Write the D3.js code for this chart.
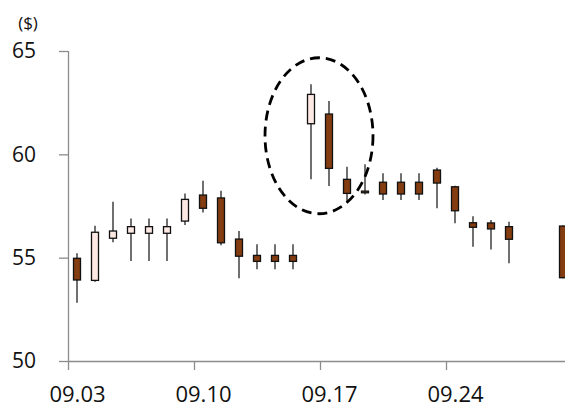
<!DOCTYPE html>
<html>
<head>
<meta charset="utf-8">
<script src="https://cdn.jsdelivr.net/npm/d3@7"></script>
<style>
  html, body { margin: 0; padding: 0; background: #fff; }
  svg { display: block; font-family: "Open Sans", "Noto Sans", sans-serif; }
</style>
</head>
<body>
<svg id="chart" width="565" height="408"></svg>
<script>
// Daily prices, September
const dates  = ["09.03","09.04","09.05","09.06","09.07","09.08","09.09","09.10","09.11","09.12",
                "09.13","09.14","09.15","09.16","09.17","09.18","09.19","09.20","09.21","09.22",
                "09.23","09.24","09.25","09.26","09.27","09.30"];
const open   = [54.97,53.90,55.94,56.18,56.18,56.18,56.77,58.03,57.89,55.90,
                55.11,55.11,55.11,61.48,61.95,58.79,58.22,58.65,58.65,58.65,
                59.24,58.43,56.69,56.68,56.50,56.53];
const high   = [55.21,56.55,57.71,56.90,56.90,56.90,58.11,58.72,58.24,56.29,
                55.65,55.65,55.65,63.39,62.58,59.40,59.52,59.08,59.08,59.08,
                59.35,58.48,57.01,56.82,56.74,56.56];
const low    = [52.82,53.84,55.74,54.84,54.84,54.84,56.58,57.19,55.60,54.00,
                54.44,54.44,54.44,58.79,58.47,57.68,58.06,57.79,57.79,57.79,
                57.39,56.66,55.53,55.40,54.73,54.00];
const close  = [53.92,56.23,56.29,56.50,56.50,56.50,57.82,57.39,55.72,55.07,
                54.82,54.82,54.82,62.90,59.32,58.11,58.14,58.08,58.08,58.08,
                58.61,57.27,56.47,56.39,55.89,54.03];

const yTicks = [50, 55, 60, 65];
const xTicks = ["09.03","09.10","09.17","09.24"];
const yUnit = "($)";

// highlighted region: centred on the 09.17 boundary, around $60.9
const highlight = { date: "09.17", value: 60.9, rx: 54, ry: 78 };

const parse = d => new Date(Date.UTC(2012, +d.slice(0, 2) - 1, +d.slice(3)));
const DAY = 864e5;

const candles = dates.map((d, i) => ({
  t: parse(d), open: open[i], high: high[i], low: low[i], close: close[i]
}));

const svg = d3.select("#chart");
const plotLeft = 68, plotTop = 51, plotBottom = 361, plotRight = 565;

const x = d3.scaleUtc()
  .domain([parse("09.03"), parse("10.01")])
  .range([plotLeft, plotLeft + 18 * 28]);
const halfDay = (x(new Date(+parse("09.03") + DAY)) - x(parse("09.03"))) / 2;
const y = d3.scaleLinear().domain([50, 65]).range([plotBottom, plotTop]);

const axisColor = "#8c8c8c";

// y axis
const yAxis = svg.append("g")
  .attr("transform", `translate(${plotLeft},0)`)
  .call(d3.axisLeft(y).tickValues(yTicks).tickSize(9).tickPadding(23).tickFormat(d3.format("d")));
yAxis.select(".domain").attr("stroke", axisColor).attr("stroke-width", 1.3)
  .attr("d", `M0.5,${plotTop}V${plotBottom}`);
yAxis.selectAll(".tick line").attr("stroke", axisColor).attr("stroke-width", 1.3);
yAxis.selectAll(".tick text").attr("font-size", 21).attr("fill", "#111")
  .attr("font-family", "'Open Sans', sans-serif");

svg.append("text")
  .attr("x", 28).attr("y", 29)
  .attr("text-anchor", "middle")
  .attr("font-size", 17).attr("fill", "#111")
  .text(yUnit);

// x axis: ticks at day boundaries, labels centred on the day
const xAxis = svg.append("g")
  .attr("transform", `translate(0,${plotBottom})`)
  .call(d3.axisBottom(x).tickValues(xTicks.map(parse)).tickSize(9).tickPadding(16)
    .tickFormat(d3.utcFormat("%m.%d")));
xAxis.select(".domain").attr("stroke", axisColor).attr("stroke-width", 1.3)
  .attr("d", `M${plotLeft},0.5H${plotRight}`);
xAxis.selectAll(".tick line").attr("stroke", axisColor).attr("stroke-width", 1.3);
xAxis.selectAll(".tick text").attr("font-size", 22).attr("fill", "#111")
  .attr("x", halfDay)
  .attr("font-family", "'Open Sans', sans-serif");

// candlesticks
const bodyW = 7;
const g = svg.append("g");
const c = g.selectAll("g.candle").data(candles).join("g").attr("class", "candle")
  .attr("transform", d => `translate(${x(d.t) + halfDay},0)`);

c.append("line")
  .attr("x1", 0).attr("x2", 0)
  .attr("y1", d => y(d.high)).attr("y2", d => y(d.low))
  .attr("stroke", "#222").attr("stroke-width", 1.3);

c.append("rect")
  .attr("x", -bodyW / 2).attr("width", bodyW)
  .attr("y", d => y(Math.max(d.open, d.close)))
  .attr("height", d => Math.max(1, Math.abs(y(d.open) - y(d.close))))
  .attr("fill", d => d.close >= d.open ? "#fde9e4" : "#843c11")
  .attr("stroke", "#111").attr("stroke-width", 1.3);

// dashed highlight ellipse
svg.append("ellipse")
  .attr("cx", x(parse(highlight.date)) - 1)
  .attr("cy", y(highlight.value))
  .attr("rx", highlight.rx).attr("ry", highlight.ry)
  .attr("fill", "none").attr("stroke", "#000")
  .attr("stroke-width", 2.8).attr("stroke-dasharray", "10,6");
</script>
</body>
</html>
